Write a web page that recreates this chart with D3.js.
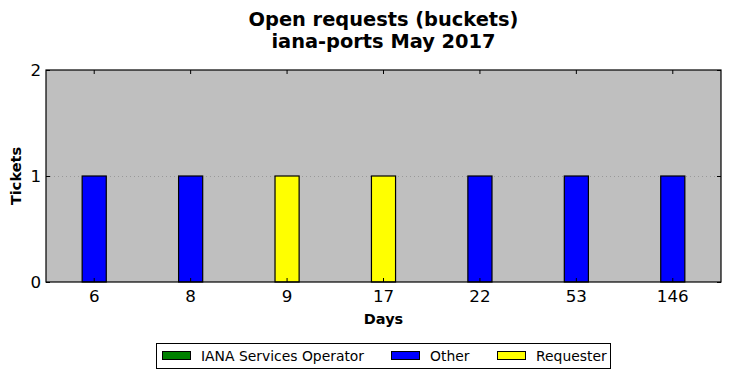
<!DOCTYPE html>
<html>
<head>
<meta charset="utf-8">
<script src="https://cdn.jsdelivr.net/npm/d3@7"></script>
<style>
  body { margin: 0; background: #fff; }
  text { font-family: "DejaVu Sans", sans-serif; }
</style>
</head>
<body>
<div id="chart"></div>
<script>
// Daten
const days = ["6", "8", "9", "17", "22", "53", "146"];
const seriesNames = ["IANA Services Operator", "Other", "Requester"];
const ianaValues = [0, 0, 0, 0, 0, 0, 0];
const otherValues = [1, 1, 0, 0, 1, 1, 1];
const requesterValues = [0, 0, 1, 1, 0, 0, 0];
const yTicks = [0, 1, 2];

const colors = {
  "IANA Services Operator": "#008000",
  "Other": "#0000ff",
  "Requester": "#ffff00"
};

// Maße
const W = 730, H = 378;
const M = { top: 70, right: 9, bottom: 96, left: 46 };

const svg = d3.select("#chart").append("svg")
  .attr("width", W)
  .attr("height", H);

const x = d3.scaleBand().domain(days).range([M.left, W - M.right]);
const y = d3.scaleLinear().domain([0, 2]).range([H - M.bottom, M.top]);

// Stapel
const table = days.map((d, i) => ({
  day: d,
  "IANA Services Operator": ianaValues[i],
  "Other": otherValues[i],
  "Requester": requesterValues[i]
}));
const stacked = d3.stack().keys(seriesNames)(table);

// Hintergrund
svg.append("rect")
  .attr("x", M.left)
  .attr("y", M.top)
  .attr("width", W - M.left - M.right)
  .attr("height", H - M.top - M.bottom)
  .attr("fill", "#bfbfbf");

// Gitter bei 1
svg.append("g").selectAll("line")
  .data(yTicks.filter(t => t > 0 && t < 2))
  .join("line")
  .attr("x1", M.left)
  .attr("x2", W - M.right)
  .attr("y1", d => y(d) + 0.5)
  .attr("y2", d => y(d) + 0.5)
  .attr("stroke", "#999")
  .attr("stroke-width", 1)
  .attr("stroke-dasharray", "1,3");

// Balken
const barW = x.bandwidth() * 0.25;
svg.append("g").selectAll("g")
  .data(stacked)
  .join("g")
  .attr("fill", d => colors[d.key])
  .selectAll("rect")
  .data(d => d.filter(s => s[1] - s[0] > 0))
  .join("rect")
  .attr("x", d => x(d.data.day) + x.bandwidth() / 2 - barW / 2)
  .attr("y", d => y(d[1]))
  .attr("width", barW)
  .attr("height", d => y(d[0]) - y(d[1]))
  .attr("stroke", "#000")
  .attr("stroke-width", 1.2);

// Achsen
const tick = 4;
const xb = svg.append("g")
  .attr("transform", `translate(0,${H - M.bottom})`)
  .call(d3.axisBottom(x).tickSizeInner(-tick).tickSizeOuter(0).tickPadding(8));
const xt = svg.append("g")
  .attr("transform", `translate(0,${M.top})`)
  .call(d3.axisTop(x).tickSizeInner(-tick).tickSizeOuter(0).tickFormat(""));
const yl = svg.append("g")
  .attr("transform", `translate(${M.left},0)`)
  .call(d3.axisLeft(y).tickValues(yTicks).tickFormat(d3.format("d")).tickSizeInner(-tick).tickSizeOuter(0).tickPadding(5));
const yr = svg.append("g")
  .attr("transform", `translate(${W - M.right},0)`)
  .call(d3.axisRight(y).tickValues(yTicks).tickSizeInner(-tick).tickSizeOuter(0).tickFormat(""));

[xb, xt, yl, yr].forEach(g => {
  g.select(".domain").remove();
  g.selectAll(".tick line").attr("stroke", "#000");
  g.selectAll(".tick text")
    .style("font-size", "16.7px")
    .style("font-family", "DejaVu Sans")
    .attr("fill", "#000");
});

// Rahmen
svg.append("rect")
  .attr("x", M.left)
  .attr("y", M.top)
  .attr("width", W - M.left - M.right)
  .attr("height", H - M.top - M.bottom)
  .attr("fill", "none")
  .attr("stroke", "#000")
  .attr("stroke-width", 1.2);

// Titel
const title = svg.append("text")
  .attr("x", (M.left + W - M.right) / 2)
  .attr("text-anchor", "middle")
  .style("font-size", "19.4px")
  .style("font-weight", "bold");
title.append("tspan").attr("x", (M.left + W - M.right) / 2).attr("y", 26).text("Open requests (buckets)");
title.append("tspan").attr("x", (M.left + W - M.right) / 2).attr("y", 48).text("iana-ports May 2017");

// Achsentitel
svg.append("text")
  .attr("x", (M.left + W - M.right) / 2)
  .attr("y", 324)
  .attr("text-anchor", "middle")
  .style("font-size", "14.5px")
  .style("font-weight", "bold")
  .text("Days");

svg.append("text")
  .attr("transform", `translate(21,${(M.top + H - M.bottom) / 2}) rotate(-90)`)
  .attr("text-anchor", "middle")
  .style("font-size", "14.5px")
  .style("font-weight", "bold")
  .text("Tickets");

// Legende
const lg = svg.append("g");
lg.append("rect")
  .attr("x", 156.5)
  .attr("y", 343.5)
  .attr("width", 454)
  .attr("height", 25)
  .attr("fill", "#fff")
  .attr("stroke", "#000")
  .attr("stroke-width", 1);

const legendX = [162, 391, 497];
const items = lg.selectAll("g.item")
  .data(seriesNames)
  .join("g")
  .attr("class", "item")
  .attr("transform", (d, i) => `translate(${legendX[i]},0)`);

items.append("rect")
  .attr("x", 0.5)
  .attr("y", 351.5)
  .attr("width", 28)
  .attr("height", 8)
  .attr("fill", d => colors[d])
  .attr("stroke", "#000")
  .attr("stroke-width", 1);

items.append("text")
  .attr("x", 39)
  .attr("y", 360.5)
  .style("font-size", "13.9px")
  .text(d => d);
</script>
</body>
</html>
